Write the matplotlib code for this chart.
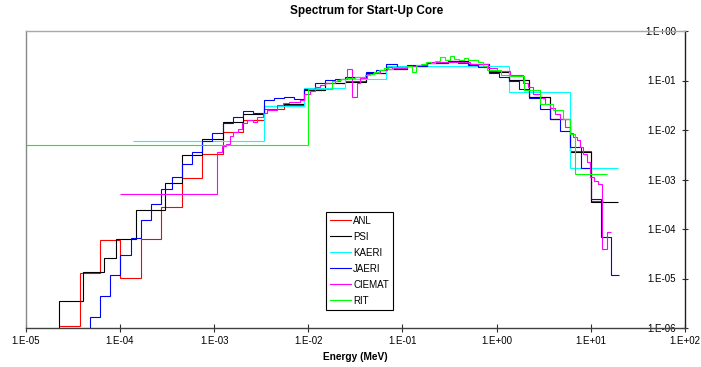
import numpy as np
import matplotlib
matplotlib.use("Agg")
import matplotlib.pyplot as plt
from matplotlib.ticker import FixedLocator, FuncFormatter, NullLocator

plt.rcParams['font.family'] = ['Liberation Sans', 'DejaVu Sans']

# ---------------- data (energy group edges in MeV, flux per group) ----------------
anl_edges = [2.26e-5, 3.727e-5, 6.144e-5, 1.013e-4, 1.67e-4, 2.754e-4, 4.54e-4, 7.485e-4,
             1.234e-3, 2.035e-3, 3.355e-3, 5.531e-3, 9.119e-3, 1.503e-2, 2.479e-2, 4.087e-2,
             6.738e-2, 0.1111, 0.1832, 0.302, 0.4979, 0.8208, 1.353, 2.231, 3.679, 6.065,
             10.0, 13.5]
anl_vals = [1.08e-6, 1.3e-5, 5.95e-5, 1.04e-5, 6.2e-5, 2.73e-4, 1.08e-3, 3.3e-3, 9.0e-3,
            1.56e-2, 2.7e-2, 3.26e-2, 6.5e-2, 8.8e-2, 0.098, 0.14, 0.17, 0.2, 0.23, 0.25,
            0.22, 0.155, 0.103, 0.047, 0.0168, 3.8e-3, 3.6e-4]

psi_edges = [1.371e-5, 2.26e-5, 4.017e-5, 6.79e-5, 9.166e-5, 1.486e-4, 3.043e-4, 4.54e-4,
             7.485e-4, 1.234e-3, 2.035e-3, 3.355e-3, 5.531e-3, 9.119e-3, 1.503e-2, 2.479e-2,
             4.087e-2, 6.738e-2, 0.1111, 0.1832, 0.302, 0.4979, 0.8208, 1.353, 2.231, 3.679,
             6.065, 10.0, 19.64]
psi_vals = [1e-8, 3.5e-6, 1.37e-5, 2.64e-5, 6.2e-5, 2.45e-4, 8.5e-4, 3.16e-3, 6.7e-3,
            1.47e-2, 2.07e-2, 3.05e-2, 3.41e-2, 6.57e-2, 9.0e-2, 9.5e-2, 0.139, 0.17, 0.198,
            0.225, 0.25, 0.22, 0.15, 0.101, 0.0464, 0.0169, 3.56e-3, 3.45e-4]

kaeri_edges = [1.39e-4, 3.355e-3, 9.119e-3, 2.479e-2, 6.738e-2, 1.353, 6.065, 19.64]
kaeri_vals = [6.1e-3, 3.05e-2, 6.9e-2, 0.105, 0.2, 0.0587, 1.72e-3]

jaeri_edges = [3.727e-5, 4.785e-5, 6.144e-5, 7.889e-5, 1.013e-4, 1.301e-4, 1.670e-4,
               2.145e-4, 2.754e-4, 3.536e-4, 4.540e-4, 5.829e-4, 7.485e-4, 9.611e-4,
               1.234e-3, 1.585e-3, 2.035e-3, 2.613e-3, 3.355e-3, 4.307e-3, 5.531e-3,
               7.102e-3, 9.119e-3, 1.171e-2, 1.503e-2, 1.931e-2, 2.479e-2, 3.183e-2,
               4.087e-2, 5.248e-2, 6.738e-2, 8.652e-2, 0.1111, 0.1426, 0.1832, 0.2352,
               0.3020, 0.3877, 0.4979, 0.6393, 0.8208, 1.054, 1.353, 1.738, 2.231, 2.865,
               3.679, 4.724, 6.065, 7.788, 10.0, 12.84, 16.49, 20.0]
jaeri_vals = [1e-8, 1.66e-6, 4.4e-6, 1.18e-5, 3.0e-5, 6.7e-5, 1.52e-4, 3.2e-4, 6.3e-4,
              1.11e-3, 2.07e-3, 3.63e-3, 5.95e-3, 8.65e-3, 1.41e-2, 1.83e-2, 2.42e-2,
              2.24e-2, 3.98e-2, 4.52e-2, 4.65e-2, 4.18e-2, 6.76e-2, 8.7e-2, 0.101, 0.105,
              0.115, 0.115, 0.15, 0.16, 0.22, 0.19, 0.21, 0.2, 0.23, 0.24, 0.25, 0.23, 0.21,
              0.19, 0.139, 0.118, 0.097, 0.0687, 0.0433, 0.027, 0.017, 9.5e-3, 4.5e-3,
              1.72e-3, 4.04e-4, 6.9e-5, 1.18e-5]

ciemat_edges = [1e-4, 1.08e-3, 1.22e-3, 1.33e-3, 1.48e-3, 1.6e-3, 1.78e-3, 1.99e-3, 2.22e-3,
                2.61e-3, 2.88e-3, 3.33e-3, 3.61e-3, 4.08e-3, 4.62e-3, 5.35e-3, 6.28e-3,
                8.16e-3, 9.0e-3, 1.04e-2, 1.18e-2, 1.33e-2, 1.5e-2, 1.7e-2, 1.92e-2,
                2.17e-2, 2.56e-2, 2.89e-2, 3.27e-2, 3.54e-2, 4.17e-2, 4.9e-2, 5.77e-2,
                6.8e-2, 7.67e-2, 9.4e-2, 0.111, 0.142, 0.181, 0.25, 0.52, 0.81, 1.0, 1.38,
                1.92, 2.16, 2.44, 2.88, 3.26, 3.68, 4.16, 4.7, 5.3, 6.0, 6.5, 7.06, 7.65,
                8.3, 9.0, 9.78, 10.8, 12.0, 13.2, 14.9, 16.2]
ciemat_vals = [5.1e-4, 3.6e-3, 4.65e-3, 5.27e-3, 7.4e-3, 9.1e-3, 1.06e-2, 1.38e-2, 1.62e-2,
               1.45e-2, 1.83e-2, 2.2e-2, 2.5e-2, 2.56e-2, 3.16e-2, 3.51e-2, 3.63e-2, 4.1e-2,
               5.27e-2, 6.15e-2, 7.41e-2, 8.3e-2, 8.7e-2, 9.0e-2, 0.1, 0.105, 0.17, 0.0465,
               0.087, 0.11, 0.133, 0.145, 0.16, 0.189, 0.175, 0.18, 0.198, 0.21, 0.232, 0.24,
               0.22, 0.18, 0.154, 0.132, 0.087, 0.074, 0.0527, 0.045, 0.034, 0.0274, 0.0214,
               0.017, 0.0115, 8.8e-3, 7.2e-3, 6.15e-3, 4.5e-3, 3.3e-3, 2.23e-3, 1.1e-3,
               9.3e-4, 8.1e-4, 3.9e-5, 8.5e-5]

rit_edges = [1e-5, 1e-2, 1.78e-2, 2.0e-2, 2.24e-2, 2.51e-2, 2.82e-2, 3.16e-2, 3.55e-2,
             3.98e-2, 4.47e-2, 5.01e-2, 5.62e-2, 6.31e-2, 7.08e-2, 7.94e-2, 8.91e-2, 0.1,
             0.112, 0.126, 0.141, 0.158, 0.178, 0.2, 0.224, 0.251, 0.282, 0.316, 0.355,
             0.398, 0.447, 0.501, 0.562, 0.631, 0.708, 0.794, 1.1, 1.38, 1.96, 2.88, 3.99,
             5.09, 6.0, 6.78, 14.9]
rit_vals = [5.0e-3, 0.0685, 0.10, 0.104, 0.108, 0.11, 0.112, 0.118, 0.12, 0.128, 0.135,
            0.15, 0.162, 0.175, 0.172, 0.185, 0.19, 0.186, 0.2, 0.148, 0.205, 0.22, 0.235,
            0.225, 0.25, 0.3, 0.26, 0.31, 0.27, 0.26, 0.28, 0.255, 0.265, 0.235, 0.2, 0.165,
            0.13, 0.124, 0.0636, 0.034, 0.025, 0.017, 8.4e-3, 1.3e-3]

series = [
    ("ANL", anl_edges, anl_vals, "#FF0000"),
    ("PSI", psi_edges, psi_vals, "#000000"),
    ("KAERI", kaeri_edges, kaeri_vals, "#00FFFF"),
    ("JAERI", jaeri_edges, jaeri_vals, "#0000FF"),
    ("CIEMAT", ciemat_edges, ciemat_vals, "#FF00FF"),
    ("RIT", rit_edges, rit_vals, "#00FF00"),
]

x_ticks = [1e-5, 1e-4, 1e-3, 1e-2, 1e-1, 1e0, 1e1, 1e2]
y_ticks = [1e-6, 1e-5, 1e-4, 1e-3, 1e-2, 1e-1, 1e0]

# ---------------- figure ----------------
W, H = 701, 367
fig = plt.figure(figsize=(W / 100, H / 100), dpi=100)
ax = fig.add_axes([25.7 / W, 1 - 328 / H, (685 - 25.7) / W, (328 - 31) / H])

for name, e, v, c in series:
    ax.stairs(v, e, color=c, lw=0.8, label=name, baseline=None)

ax.set_xscale('log')
ax.set_yscale('log')
ax.set_xlim(1e-5, 1e2)
ax.set_ylim(1e-6, 1e0)

fmt = FuncFormatter(lambda v, p: "1.E%+03d" % int(round(np.log10(v))))
ax.xaxis.set_major_locator(FixedLocator(x_ticks))
ax.yaxis.set_major_locator(FixedLocator(y_ticks))
ax.xaxis.set_minor_locator(NullLocator())
ax.yaxis.set_minor_locator(NullLocator())
ax.xaxis.set_major_formatter(fmt)
ax.yaxis.set_major_formatter(fmt)

ax.tick_params(axis='x', direction='inout', length=5.5, width=0.8, colors='#303030',
               labelsize=7, pad=3, labelcolor='black')
ax.tick_params(axis='y', direction='inout', length=4, width=0.8, colors='#303030',
               left=False, right=True, labelleft=False, labelright=True,
               labelsize=7, pad=-8.5, labelcolor='black')
for lab in ax.get_yticklabels():
    lab.set_horizontalalignment('right')

ax.spines['top'].set_color('#A8A8A8')
ax.spines['left'].set_color('#888888')
ax.spines['bottom'].set_color('#404040')
ax.spines['right'].set_color('#202020')
for s in ax.spines.values():
    s.set_linewidth(1.0)

fig.text(367 / W, 1 - 11 / H, "Spectrum for Start-Up Core", ha='center', va='center',
         fontsize=8.5, fontweight='bold')
fig.text(355.4 / W, 1 - 357 / H, "Energy (MeV)", ha='center', va='center',
         fontsize=7.3, fontweight='bold')

leg = ax.legend(loc='upper left', bbox_to_anchor=(326 / W, 1 - 211.7 / H),
                bbox_transform=fig.transFigure, borderaxespad=0, fontsize=7,
                frameon=True, fancybox=False, shadow=False, framealpha=1,
                handlelength=2.2, handletextpad=0.2, borderpad=0.4, labelspacing=0.62)
leg.get_frame().set_edgecolor('black')
leg.get_frame().set_linewidth(0.8)

fig.savefig("out.png", dpi=100)
